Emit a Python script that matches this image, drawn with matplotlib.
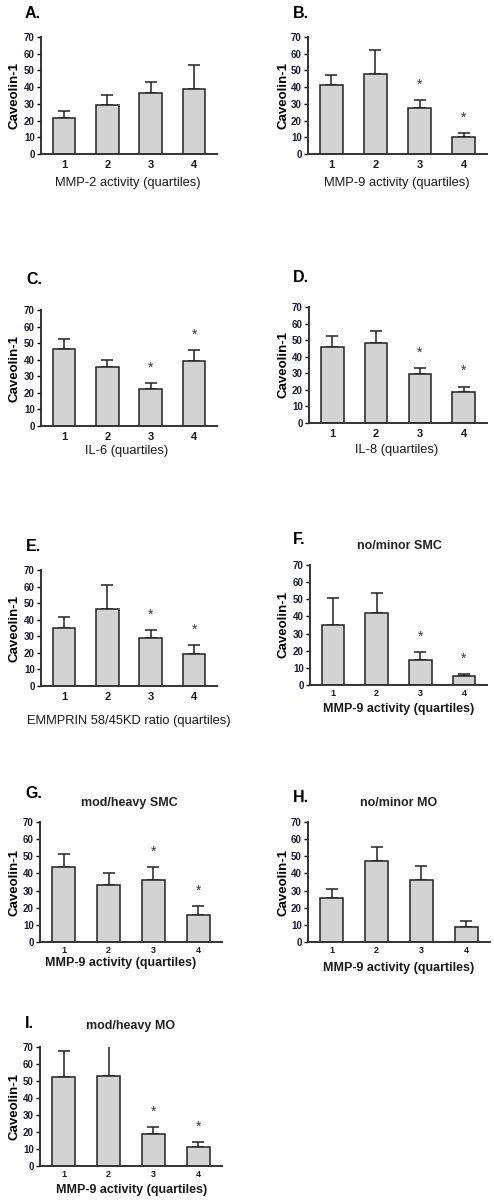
import matplotlib
matplotlib.use("Agg")
import matplotlib.pyplot as plt

plt.rcParams["font.family"] = ["Liberation Sans", "DejaVu Sans"]

W, H = 494, 1201

QUARTILES = ["1", "2", "3", "4"]
YTICKS = [0, 10, 20, 30, 40, 50, 60, 70]

mean_a = [21.5, 29.5, 36.5, 39.0]
err_a = [26.0, 35.5, 43.0, 53.5]
mean_b = [41.0, 48.0, 27.5, 10.0]
err_b = [47.5, 62.5, 32.5, 12.5]
mean_c = [46.5, 35.5, 22.5, 39.5]
err_c = [52.5, 40.0, 26.0, 46.0]
mean_d = [46.0, 48.5, 29.5, 19.0]
err_d = [52.5, 55.5, 33.0, 22.0]
mean_e = [35.0, 46.5, 29.0, 19.5]
err_e = [41.5, 61.0, 34.0, 24.5]
mean_f = [35.0, 42.0, 14.5, 5.0]
err_f = [50.5, 53.5, 19.0, 6.5]
mean_g = [43.5, 33.0, 36.0, 15.5]
err_g = [51.5, 40.0, 43.5, 21.0]
mean_h = [25.5, 47.0, 36.0, 8.5]
err_h = [31.0, 55.5, 44.5, 12.5]
mean_i = [52.5, 53.0, 19.0, 11.0]
err_i = [67.5, 71.0, 23.0, 14.0]

stars_a = []
stars_b = [3, 4]
stars_c = [3, 4]
stars_d = [3, 4]
stars_e = [3, 4]
stars_f = [3, 4]
stars_g = [3, 4]
stars_h = []
stars_i = [3, 4]

# letter, title, xlabel, data, stars, axes box (px: left, right, top(70), bottom(0)),
# letter pos, title pos, xlabel pos, ylabel x
panels = [
    ("A.", "", "MMP-2 activity (quartiles)", mean_a, err_a, stars_a,
     (41, 217, 37, 154), (25, 13), None, (128, 183), 15),
    ("B.", "", "MMP-9 activity (quartiles)", mean_b, err_b, stars_b,
     (308, 487, 37, 154), (293, 13), None, (397, 183), 283),
    ("C.", "", "IL-6 (quartiles)", mean_c, err_c, stars_c,
     (41, 217, 310, 426), (26, 280), None, (127, 451), 15),
    ("D.", "", "IL-8 (quartiles)", mean_d, err_d, stars_d,
     (309, 487, 307, 423), (293, 277), None, (397, 450), 283),
    ("E.", "", "EMMPRIN 58/45KD ratio (quartiles)", mean_e, err_e, stars_e,
     (41, 217, 570, 686), (26, 547), None, (129, 721), 15),
    ("F.", "no/minor SMC", "MMP-9 activity (quartiles)", mean_f, err_f, stars_f,
     (310, 487, 565, 685), (293, 539), (399, 546), (399, 709), 283),
    ("G.", "mod/heavy SMC", "MMP-9 activity (quartiles)", mean_g, err_g, stars_g,
     (40, 222, 822, 942), (25, 794), (129, 803), (121, 963), 15),
    ("H.", "no/minor MO", "MMP-9 activity (quartiles)", mean_h, err_h, stars_h,
     (308, 490, 822, 942), (293, 797), (399, 803), (399, 968), 283),
    ("I.", "mod/heavy MO", "MMP-9 activity (quartiles)", mean_i, err_i, stars_i,
     (40, 222, 1047, 1166), (25, 1024), (131, 1026), (132, 1190), 15),
]


def fx(x):
    return x / W


def fy(y):
    return 1 - y / H


fig = plt.figure(figsize=(W / 100, H / 100), dpi=100)
fig.patch.set_facecolor("white")
edge = "#222222"

for i, (letter, title, xlabel, means, tops, stars, box, lpos, tpos, xpos, ylx) in enumerate(panels):
    x0, x1, y70, y0 = box
    ax = fig.add_axes([fx(x0), fy(y0), (x1 - x0) / W, (y0 - y70) / H])
    xs = [1, 2, 3, 4]
    ax.bar(xs, means, width=0.52, color="#d3d3d3", edgecolor=edge, linewidth=1.1, zorder=2)
    up = [t - m for t, m in zip(tops, means)]
    ax.errorbar(xs, means, yerr=[[0] * 4, up], fmt="none", ecolor=edge,
                elinewidth=1.1, capsize=4.5, capthick=1.1, zorder=1)
    for s in stars:
        ax.text(s, tops[s - 1] + 5, "*", ha="center", va="bottom", fontsize=10,
                color="#333344")
    ax.set_xlim(0.47, 4.53)
    ax.set_ylim(0, 70)
    ax.set_yticks(YTICKS)
    ax.set_xticks(xs)
    ax.set_xticklabels(QUARTILES)
    for sp in ["top", "right"]:
        ax.spines[sp].set_visible(False)
    for sp in ["left", "bottom"]:
        ax.spines[sp].set_linewidth(1.4)
        ax.spines[sp].set_color("#333333")
    small = i >= 5
    ax.tick_params(axis="y", length=3, width=1, pad=1.5, labelsize=7, labelcolor="#1a1a33")
    ax.tick_params(axis="x", length=0, pad=4 if not small else 3,
                   labelsize=6.5 if small else 8, labelcolor="#1a1a1a")
    for lab in ax.get_yticklabels() + ax.get_xticklabels():
        lab.set_fontweight("bold")

    fig.text(fx(lpos[0]), fy(lpos[1]), letter, fontsize=11.5, fontweight="bold",
             ha="left", va="center")
    if title:
        fig.text(fx(tpos[0]), fy(tpos[1]), title, fontsize=9, fontweight="bold",
                 ha="center", va="center", color="#222222")
    fig.text(fx(xpos[0]), fy(xpos[1]), xlabel, fontsize=9 if small else 9.3,
             fontweight="bold" if small else "normal", ha="center", va="center",
             color="#1a1a1a")
    fig.text(fx(ylx), fy((y70 + y0) / 2), "Caveolin-1", rotation=90, fontsize=9.5,
             fontweight="bold", ha="center", va="center")

fig.savefig("out.png", dpi=100, facecolor="white")
